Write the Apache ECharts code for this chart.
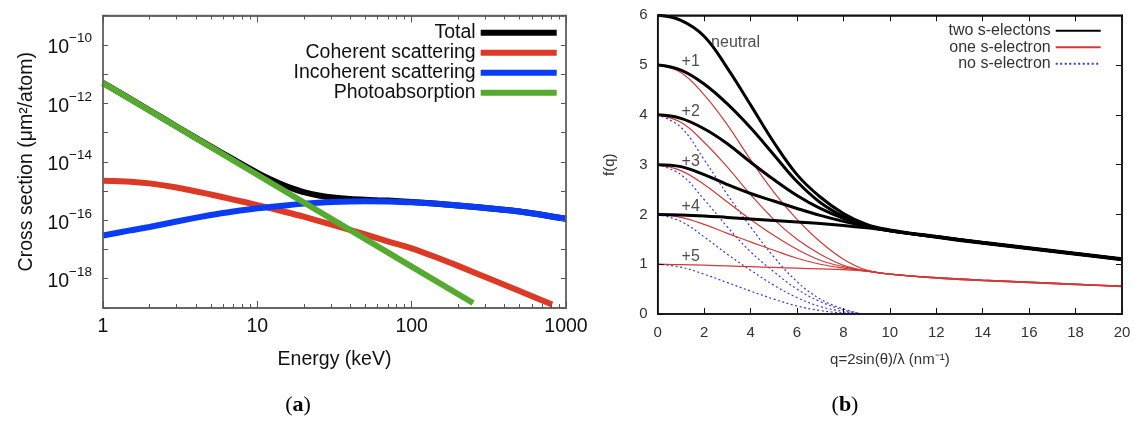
<!DOCTYPE html>
<html>
<head>
<meta charset="utf-8">
<script src="https://cdn.jsdelivr.net/npm/echarts@6/dist/echarts.min.js"></script>
<style>
  html, body { margin: 0; background: #fff; }
  #chart { width: 1134px; height: 421px; }
</style>
</head>
<body>
<div id="chart"></div>
<script>
// ---- panel (a): cross sections vs energy (log-log) ----
const energyTicks = [1, 10, 100, 1000];
const energyMinor = [2, 3, 4, 5, 6, 7, 8, 9, 20, 30, 40, 50, 60, 70, 80, 90, 200, 300, 400, 500, 600, 700, 800, 900];
const crossLabels = [1e-18, 1e-16, 1e-14, 1e-12, 1e-10];
const crossTicks = [1e-19, 1e-18, 1e-17, 1e-16, 1e-15, 1e-14, 1e-13, 1e-12, 1e-11, 1e-10, 1e-9];

const energyTotal = [1, 2, 3, 5, 7, 10, 12, 15, 17, 20, 25, 30, 40, 50, 70, 100, 200, 500, 1000];
const crossTotal = [5.0e-12, 5.75e-13, 1.6e-13, 3.3e-14, 1.2e-14, 4.2e-15, 2.6e-15, 1.54e-15, 1.21e-15, 9.1e-16, 7.0e-16, 6.1e-16, 5.3e-16, 5.0e-16, 4.7e-16, 4.2e-16, 3.2e-16, 2.0e-16, 1.12e-16];
const energyCoh = [1, 1.5, 2, 3, 5, 7, 10, 15, 20, 30, 50, 70, 100, 150, 200, 300, 500, 813];
const crossCoh = [2.24e-15, 2.09e-15, 1.82e-15, 1.32e-15, 7.6e-16, 5.1e-16, 3.3e-16, 1.95e-16, 1.32e-16, 7.2e-17, 3.3e-17, 1.9e-17, 1.1e-17, 5.0e-18, 2.75e-18, 1.15e-18, 3.8e-19, 1.32e-19];
const energyIncoh = [1, 1.5, 2, 3, 5, 7, 10, 15, 20, 30, 50, 70, 100, 200, 500, 1000];
const crossIncoh = [3.0e-17, 4.5e-17, 5.9e-17, 9.1e-17, 1.51e-16, 2.0e-16, 2.57e-16, 3.2e-16, 3.7e-16, 4.2e-16, 4.5e-16, 4.4e-16, 4.1e-16, 3.2e-16, 2.0e-16, 1.12e-16];
const energyPhoto = [1, 10, 100, 250];
const crossPhoto = [5.0e-12, 3.6e-15, 2.6e-18, 1.48e-19];

// ---- panel (b): form factor f(q) ----
const qGrid = [0, 1, 2, 3, 4, 5, 6, 7, 8, 9, 10, 12, 14, 16, 18, 20];
const twoNeutral = [6.0, 5.9, 5.58, 4.94, 4.2, 3.45, 2.8, 2.35, 2.02, 1.8, 1.69, 1.56, 1.44, 1.33, 1.22, 1.11];
const twoPlus1 = [5.0, 4.9, 4.62, 4.22, 3.74, 3.2, 2.66, 2.24, 1.96, 1.78, 1.68, 1.55, 1.43, 1.32, 1.21, 1.1];
const twoPlus2 = [4.0, 3.93, 3.72, 3.42, 3.05, 2.7, 2.38, 2.12, 1.92, 1.77, 1.67, 1.55, 1.43, 1.32, 1.21, 1.1];
const twoPlus3 = [3.0, 2.96, 2.8, 2.6, 2.42, 2.27, 2.12, 1.98, 1.86, 1.76, 1.67, 1.55, 1.43, 1.32, 1.21, 1.1];
const twoPlus4 = [2.0, 1.99, 1.97, 1.94, 1.91, 1.88, 1.85, 1.82, 1.78, 1.73, 1.67, 1.54, 1.42, 1.31, 1.2, 1.09];

const onePlus1 = [5.0, 4.85, 4.4, 3.8, 3.1, 2.45, 1.9, 1.45, 1.1, 0.88, 0.8, 0.73, 0.68, 0.64, 0.6, 0.56];
const onePlus2 = [4.0, 3.85, 3.45, 2.95, 2.4, 1.9, 1.5, 1.2, 0.98, 0.87, 0.8, 0.73, 0.68, 0.64, 0.6, 0.56];
const onePlus3 = [3.0, 2.88, 2.6, 2.25, 1.9, 1.58, 1.3, 1.08, 0.95, 0.86, 0.8, 0.73, 0.68, 0.64, 0.6, 0.56];
const onePlus4 = [2.0, 1.94, 1.8, 1.62, 1.45, 1.28, 1.12, 1.0, 0.92, 0.86, 0.8, 0.72, 0.67, 0.63, 0.59, 0.55];
const onePlus5 = [1.0, 0.99, 0.98, 0.965, 0.95, 0.935, 0.92, 0.905, 0.89, 0.86, 0.8, 0.72, 0.67, 0.63, 0.59, 0.55];

const qNone = [0, 1, 2, 3, 4, 5, 6, 7, 8, 8.8];
const none4 = [4.0, 3.75, 3.1, 2.4, 1.75, 1.15, 0.65, 0.3, 0.1, 0];
const none3 = [3.0, 2.8, 2.3, 1.75, 1.25, 0.85, 0.5, 0.25, 0.08, 0];
const none2 = [2.0, 1.86, 1.55, 1.2, 0.88, 0.58, 0.33, 0.15, 0.05, 0];
const none1 = [1.0, 0.94, 0.8, 0.63, 0.46, 0.3, 0.16, 0.07, 0.02, 0];

const ionLabels = ['neutral', '+1', '+2', '+3', '+4', '+5'];
const ionLabelQ = [2.3, 1.03, 1.03, 1.03, 1.03, 1.03];
const ionLabelF = [5.45, 5.08, 4.06, 3.06, 2.15, 1.15];

const FONT = 'Liberation Sans';
const pairs = (xs, ys) => xs.map((x, i) => [x, ys[i]]);

const chart = echarts.init(document.getElementById('chart'));

function logLine(name, xs, ys, color, smooth) {
  return {
    name, type: 'line', xAxisIndex: 0, yAxisIndex: 0,
    data: pairs(xs, ys), symbol: 'none', smooth,
    lineStyle: { width: 6, color }, itemStyle: { color }
  };
}
function fLine(name, xs, ys, kind) {
  const styles = {
    two: { width: 3, color: '#000', type: 'solid' },
    one: { width: 1.2, color: '#d23a3a', type: 'solid' },
    none: { width: 1.2, color: '#3b3bd6', type: [2, 2.5] }
  };
  const ls = styles[kind];
  return {
    name, type: 'line', xAxisIndex: 4, yAxisIndex: 2,
    data: pairs(xs, ys), symbol: 'none', smooth: 0.4,
    lineStyle: ls, itemStyle: { color: ls.color },
    z: kind === 'two' ? 4 : kind === 'one' ? 3 : 2
  };
}

const lineA = { show: true, onZero: false, lineStyle: { color: '#666', width: 1.5 } };
const lineB = { show: true, onZero: false, lineStyle: { color: '#111', width: 1.5 } };
const tickA = (length, values) => ({ show: true, inside: true, length, customValues: values, lineStyle: { color: '#555', width: 1 } });
const tickB = { show: true, inside: true, length: 6, lineStyle: { color: '#111', width: 1 } };
const noLabel = { show: false };
const noSplit = { show: false };
const AZ = 8;

const option = {
  animation: false,
  grid: [
    { left: 103, top: 15.5, width: 463, height: 292.5, show: true, borderColor: '#666', borderWidth: 1.5, backgroundColor: 'transparent', outerBoundsMode: 'none' },
    { left: 657.7, top: 15.3, width: 464.3, height: 298.7, show: true, borderColor: '#111', borderWidth: 1.5, backgroundColor: 'transparent', outerBoundsMode: 'none' }
  ],
  legend: [
    {
      data: ['Total', 'Coherent scattering', 'Incoherent scattering', 'Photoabsorption'],
      orient: 'vertical', right: 577.3, top: 22.8, padding: 0, align: 'right',
      icon: 'rect', itemWidth: 76, itemHeight: 6, itemGap: 0,
      textStyle: { fontFamily: FONT, fontSize: 19.5, color: '#111', lineHeight: 19.2 }
    },
    {
      data: ['two s-electons', 'one s-electron', 'no s-electron'],
      orient: 'vertical', right: 32.3, top: 22.5, padding: 0, align: 'right',
      itemWidth: 45, itemHeight: 0.5, itemGap: 0,
      textStyle: { fontFamily: FONT, fontSize: 16, color: '#333', lineHeight: 16.5 }
    }
  ],
  xAxis: [
    {
      gridIndex: 0, type: 'log', logBase: 10, min: 1, max: 1000, position: 'bottom', z: AZ,
      axisLine: lineA, splitLine: noSplit,
      axisTick: tickA(7, energyTicks),
      axisLabel: { customValues: energyTicks, fontFamily: FONT, fontSize: 19.5, color: '#111', margin: 9,
        formatter: v => String(Math.round(v)) },
      name: 'Energy (keV)', nameLocation: 'middle', nameGap: 42,
      nameTextStyle: { fontFamily: FONT, fontSize: 19.5, color: '#111' }
    },
    { gridIndex: 0, type: 'log', logBase: 10, min: 1, max: 1000, position: 'bottom', z: AZ,
      axisLine: lineA, axisLabel: noLabel, splitLine: noSplit, axisTick: tickA(4, energyMinor) },
    { gridIndex: 0, type: 'log', logBase: 10, min: 1, max: 1000, position: 'top', z: AZ,
      axisLine: lineA, axisLabel: noLabel, splitLine: noSplit, axisTick: tickA(7, energyTicks) },
    { gridIndex: 0, type: 'log', logBase: 10, min: 1, max: 1000, position: 'top', z: AZ,
      axisLine: lineA, axisLabel: noLabel, splitLine: noSplit, axisTick: tickA(4, energyMinor) },
    {
      gridIndex: 1, type: 'value', min: 0, max: 20, interval: 2, position: 'bottom', z: AZ,
      axisLine: lineB, splitLine: noSplit,
      axisTick: tickB,
      axisLabel: { fontFamily: FONT, fontSize: 15, color: '#333', margin: 11 },
      name: 'q=2sin(θ)/λ (nm⁻¹)', nameLocation: 'middle', nameGap: 38,
      nameTextStyle: { fontFamily: FONT, fontSize: 15, color: '#333' }
    },
    { gridIndex: 1, type: 'value', min: 0, max: 20, interval: 2, position: 'top', z: AZ,
      axisLine: lineB, axisLabel: noLabel, splitLine: noSplit, axisTick: tickB }
  ],
  yAxis: [
    {
      gridIndex: 0, type: 'log', logBase: 10, min: 1e-19, max: 1e-9, position: 'left', z: AZ,
      axisLine: lineA, splitLine: noSplit,
      axisTick: tickA(5, crossTicks),
      axisLabel: {
        customValues: crossLabels, margin: 11, color: '#111',
        formatter: v => '{b|10}{s|−' + (-Math.round(Math.log10(v))) + '}',
        rich: {
          b: { fontFamily: FONT, fontSize: 19.5, color: '#111', lineHeight: 26, verticalAlign: 'bottom' },
          s: { fontFamily: FONT, fontSize: 13.5, color: '#111', lineHeight: 15, verticalAlign: 'top' }
        }
      },
      name: 'Cross section (μm²/atom)', nameLocation: 'middle', nameGap: 66,
      nameTextStyle: { fontFamily: FONT, fontSize: 19.5, color: '#111' }
    },
    { gridIndex: 0, type: 'log', logBase: 10, min: 1e-19, max: 1e-9, position: 'right', z: AZ,
      axisLine: lineA, axisLabel: noLabel, splitLine: noSplit, axisTick: tickA(5, crossTicks) },
    {
      gridIndex: 1, type: 'value', min: 0, max: 6, interval: 1, position: 'left', z: AZ,
      axisLine: lineB, splitLine: noSplit,
      axisTick: tickB,
      axisLabel: { fontFamily: FONT, fontSize: 15, color: '#333', margin: 10 },
      name: 'f(q)', nameLocation: 'middle', nameGap: 40,
      nameTextStyle: { fontFamily: FONT, fontSize: 15, color: '#333' }
    },
    { gridIndex: 1, type: 'value', min: 0, max: 6, interval: 1, position: 'right', z: AZ,
      axisLine: lineB, axisLabel: noLabel, splitLine: noSplit, axisTick: tickB }
  ],
  series: [
    logLine('Total', energyTotal, crossTotal, '#000', 0.25),
    logLine('Coherent scattering', energyCoh, crossCoh, '#dc3a26', 0.25),
    logLine('Incoherent scattering', energyIncoh, crossIncoh, '#0a3cf5', 0.25),
    logLine('Photoabsorption', energyPhoto, crossPhoto, '#57aa30', false),

    fLine('no s-electron', qNone, none4, 'none'),
    fLine('no s-electron', qNone, none3, 'none'),
    fLine('no s-electron', qNone, none2, 'none'),
    fLine('no s-electron', qNone, none1, 'none'),
    fLine('one s-electron', qGrid, onePlus1, 'one'),
    fLine('one s-electron', qGrid, onePlus2, 'one'),
    fLine('one s-electron', qGrid, onePlus3, 'one'),
    fLine('one s-electron', qGrid, onePlus4, 'one'),
    fLine('one s-electron', qGrid, onePlus5, 'one'),
    fLine('two s-electons', qGrid, twoNeutral, 'two'),
    fLine('two s-electons', qGrid, twoPlus1, 'two'),
    fLine('two s-electons', qGrid, twoPlus2, 'two'),
    fLine('two s-electons', qGrid, twoPlus3, 'two'),
    fLine('two s-electons', qGrid, twoPlus4, 'two'),
    {
      type: 'scatter', xAxisIndex: 4, yAxisIndex: 2, symbolSize: 0, silent: true, z: 6,
      data: ionLabels.map((t, i) => [ionLabelQ[i], ionLabelF[i], t]),
      label: {
        show: true, position: [0, 0], align: 'left', verticalAlign: 'middle',
        fontFamily: FONT, fontSize: 16, color: '#222', formatter: p => p.data[2]
      }
    }
  ],
  graphic: [
    { type: 'text', x: 298, y: 405, style: { text: '{p|(}{b|a}{p|)}', align: 'center', verticalAlign: 'middle',
      rich: { p: { fontFamily: 'Liberation Serif', fontSize: 22, fill: '#000' }, b: { fontFamily: 'Liberation Serif', fontSize: 22, fontWeight: 'bold', fill: '#000' } } } },
    { type: 'text', x: 845, y: 405, style: { text: '{p|(}{b|b}{p|)}', align: 'center', verticalAlign: 'middle',
      rich: { p: { fontFamily: 'Liberation Serif', fontSize: 22, fill: '#000' }, b: { fontFamily: 'Liberation Serif', fontSize: 22, fontWeight: 'bold', fill: '#000' } } } }
  ]
};

chart.setOption(option);
</script>
</body>
</html>
